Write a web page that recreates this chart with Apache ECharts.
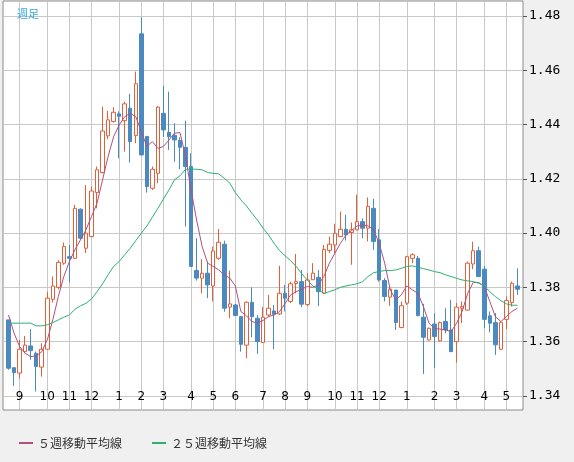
<!DOCTYPE html>
<html><head><meta charset="utf-8">
<script src="https://cdn.jsdelivr.net/npm/echarts@6/dist/echarts.min.js"></script>
<style>html,body{margin:0;padding:0;background:#f0f0f0}#c{width:574px;height:462px}</style>
</head><body><div id="c"></div>
<script>
// weekly candles: [open, close, low, high]
const ohlc = [
[1.3680,1.3502,1.3496,1.3680],[1.3504,1.3486,1.3437,1.3504],[1.3484,1.3572,1.3465,1.3606],[1.3563,1.3587,1.3557,1.3621],
[1.3584,1.3567,1.3533,1.3646],[1.3557,1.3508,1.3416,1.3563],[1.3506,1.3572,1.3471,1.3594],[1.3572,1.3760,1.3570,1.3784],
[1.3756,1.3805,1.3744,1.3840],[1.3800,1.3892,1.3793,1.3900],[1.3889,1.3950,1.3883,1.3965],[1.3913,1.3907,1.3818,1.3956],
[1.3907,1.4091,1.3904,1.4104],[1.4088,1.3981,1.3975,1.4091],[1.3944,1.3999,1.3926,1.4177],[1.3987,1.4155,1.3985,1.4171],
[1.4149,1.4233,1.4091,1.4245],[1.4223,1.4376,1.4220,1.4466],[1.4358,1.4417,1.4346,1.4450],[1.4411,1.4445,1.4407,1.4464],
[1.4439,1.4430,1.4276,1.4448],[1.4414,1.4476,1.4300,1.4484],[1.4460,1.4337,1.4260,1.4513],[1.4359,1.4550,1.4331,1.4595],
[1.4734,1.4288,1.4285,1.4795],[1.4356,1.4171,1.4149,1.4356],[1.4165,1.4235,1.4159,1.4245],[1.4220,1.4464,1.4184,1.4468],
[1.4441,1.4380,1.4355,1.4542],[1.4371,1.4355,1.4306,1.4521],[1.4360,1.4343,1.4263,1.4405],[1.4341,1.4316,1.4235,1.4353],
[1.4315,1.4245,1.4024,1.4414],[1.4245,1.3877,1.3877,1.4294],[1.3862,1.3834,1.3825,1.3981],[1.3834,1.3852,1.3778,1.3904],
[1.3852,1.3809,1.3760,1.3895],[1.3805,1.3934,1.3748,1.3950],[1.3907,1.3966,1.3901,1.4015],[1.3959,1.3723,1.3710,1.3972],
[1.3727,1.3739,1.3686,1.3862],[1.3735,1.3696,1.3694,1.3739],[1.3692,1.3590,1.3563,1.3692],[1.3587,1.3745,1.3539,1.3748],
[1.3745,1.3692,1.3616,1.3800],[1.3686,1.3600,1.3555,1.3698],[1.3597,1.3690,1.3595,1.3727],[1.3698,1.3723,1.3692,1.3772],
[1.3713,1.3701,1.3572,1.3735],[1.3702,1.3778,1.3698,1.3879],[1.3778,1.3760,1.3711,1.3809],[1.3748,1.3813,1.3742,1.3821],
[1.3814,1.3821,1.3778,1.3923],[1.3821,1.3738,1.3727,1.3864],[1.3737,1.3827,1.3731,1.3852],[1.3828,1.3852,1.3827,1.3889],
[1.3837,1.3784,1.3731,1.3864],[1.3778,1.3940,1.3775,1.3956],[1.3936,1.3959,1.3926,1.3987],[1.3956,1.3999,1.3926,1.4034],
[1.3987,1.4014,1.3985,1.4079],[1.4014,1.3993,1.3972,1.4067],[1.4002,1.4012,1.3883,1.4039],[1.4012,1.4042,1.4010,1.4141],
[1.4042,1.4018,1.3981,1.4054],[1.4018,1.4098,1.3969,1.4131],[1.4091,1.3969,1.3938,1.4126],[1.3975,1.3827,1.3821,1.4015],
[1.3825,1.3766,1.3748,1.3834],[1.3764,1.3793,1.3732,1.3805],[1.3790,1.3670,1.3643,1.3790],[1.3652,1.3732,1.3649,1.3748],
[1.3742,1.3913,1.3735,1.3916],[1.3907,1.3920,1.3889,1.3926],[1.3907,1.3696,1.3693,1.3916],[1.3690,1.3616,1.3481,1.3739],
[1.3606,1.3649,1.3604,1.3652],[1.3665,1.3619,1.3502,1.3705],[1.3603,1.3670,1.3600,1.3674],[1.3674,1.3643,1.3631,1.3723],
[1.3643,1.3563,1.3563,1.3754],[1.3600,1.3727,1.3523,1.3742],[1.3723,1.3729,1.3668,1.3748],[1.3716,1.3889,1.3714,1.3895],
[1.3886,1.3935,1.3867,1.3968],[1.3935,1.3840,1.3837,1.3950],[1.3867,1.3682,1.3649,1.3879],[1.3695,1.3668,1.3634,1.3711],
[1.3670,1.3588,1.3551,1.3705],[1.3572,1.3671,1.3570,1.3674],[1.3682,1.3751,1.3646,1.3766],[1.3744,1.3815,1.3729,1.3821],
[1.3805,1.3793,1.3772,1.3870]
];
const ma5 = [
1.3698,1.3631,1.3582,1.3557,1.3545,1.3547,1.3563,1.3606,1.3680,1.3766,1.3840,1.3895,1.3938,1.3975,1.4012,1.4061,
1.4110,1.4196,1.4282,1.4355,1.4398,1.4429,1.4441,1.4429,1.4374,1.4319,1.4337,1.4312,1.4319,1.4343,1.4368,1.4370,
1.4282,1.4159,1.4048,1.3950,1.3889,1.3877,1.3864,1.3846,1.3834,1.3805,1.3711,1.3695,1.3674,1.3668,1.3678,1.3692,
1.3698,1.3711,1.3741,1.3772,1.3784,1.3793,1.3803,1.3800,1.3809,1.3840,1.3889,1.3926,1.3962,1.3993,1.4009,1.4026,
1.4030,1.4026,1.4012,1.3962,1.3889,1.3791,1.3754,1.3772,1.3805,1.3791,1.3778,1.3729,1.3668,1.3649,1.3646,1.3643,
1.3637,1.3668,1.3711,1.3778,1.3818,1.3818,1.3803,1.3748,1.3692,1.3674,1.3692,1.3711,1.3723
];
const ma25 = [
1.3668,1.3668,1.3668,1.3668,1.3668,1.3658,1.3658,1.3662,1.3670,1.3680,1.3690,1.3698,1.3719,1.3732,1.3741,1.3757,
1.3784,1.3813,1.3846,1.3877,1.3895,1.3920,1.3944,1.3972,1.3999,1.4026,1.4058,1.4091,1.4125,1.4159,1.4196,1.4211,
1.4235,1.4236,1.4235,1.4233,1.4223,1.4220,1.4218,1.4202,1.4184,1.4149,1.4122,1.4100,1.4073,1.4048,1.4018,1.3993,
1.3962,1.3935,1.3916,1.3898,1.3877,1.3850,1.3827,1.3805,1.3791,1.3778,1.3784,1.3791,1.3800,1.3805,1.3809,1.3813,
1.3821,1.3840,1.3854,1.3858,1.3862,1.3862,1.3864,1.3870,1.3877,1.3879,1.3874,1.3869,1.3864,1.3858,1.3854,1.3846,
1.3840,1.3833,1.3827,1.3824,1.3821,1.3815,1.3805,1.3784,1.3766,1.3751,1.3739,1.3734,1.3734
];
// month tick: candle number (1-based) -> label
const monthPos = [3,8,12,16,21,25,29,34,38,42,47,51,55,60,64,68,73,78,82,87,91];
const monthLabels = ['9','10','11','12','1','2','3','4','5','6','7','8','9','10','11','12','1','2','3','4','5'];
const priceTicks = [1.34,1.36,1.38,1.40,1.42,1.44,1.46,1.48];

const N = ohlc.length + 2;
const cats = [];
for (let i = 0; i < N; i++) { const k = monthPos.indexOf(i); cats.push(k >= 0 ? monthLabels[k] : ''); }
const pad = a => [null].concat(a, [null]);
const candles = ['-'].concat(ohlc, ['-']);

const chart = echarts.init(document.getElementById('c'), null, {renderer:'canvas'});
chart.setOption({
  animation:false,
  backgroundColor:'#f0f0f0',
  textStyle:{fontFamily:'DejaVu Sans'},
  grid:{left:1,right:51,top:1,bottom:52,show:true,backgroundColor:'#ffffff',borderColor:'#8a8a8a',borderWidth:1},
  title:{text:'週足',left:12,top:3,textStyle:{color:'#33aadd',fontSize:11,fontWeight:'normal',fontFamily:'Noto Sans CJK JP'}},
  legend:{bottom:8,left:14,itemGap:30,itemWidth:14,itemHeight:2,icon:'rect',
    textStyle:{color:'#333',fontSize:12,fontFamily:'Noto Sans CJK JP'},
    data:['５週移動平均線','２５週移動平均線']},
  xAxis:{type:'category',data:cats,boundaryGap:false,
    axisLine:{show:false},axisTick:{show:false},
    axisLabel:{inside:true,margin:7,interval:0,color:'#000',fontSize:12,fontFamily:'DejaVu Sans'},
    splitLine:{show:true,interval:(i,v)=>v!=='',lineStyle:{color:'#c8c8c8',width:1}}},
  yAxis:{type:'value',position:'right',min:1.3348,max:1.4855,scale:true,
    axisLine:{show:false},
    axisTick:{show:true,customValues:priceTicks,length:4,lineStyle:{color:'#555'}},
    axisLabel:{customValues:priceTicks,formatter:v=>v.toFixed(2),color:'#000',fontSize:13,margin:6,fontFamily:'DejaVu Sans Mono'},
    splitLine:{show:true,lineStyle:{color:'#c8c8c8',width:1}}},
  series:[
    {type:'candlestick',data:candles,barWidth:4,
     itemStyle:{color:'#ffffff',color0:'#4a8ac0',borderColor:'#e0603a',borderColor0:'#4a8ac0',borderWidth:1}},
    {name:'５週移動平均線',type:'line',data:pad(ma5),symbol:'none',color:'#b05080',lineStyle:{width:1,color:'#b05080'}},
    {name:'２５週移動平均線',type:'line',data:pad(ma25),symbol:'none',color:'#2eb070',lineStyle:{width:1,color:'#2eb070'}}
  ]
});
</script></body></html>
